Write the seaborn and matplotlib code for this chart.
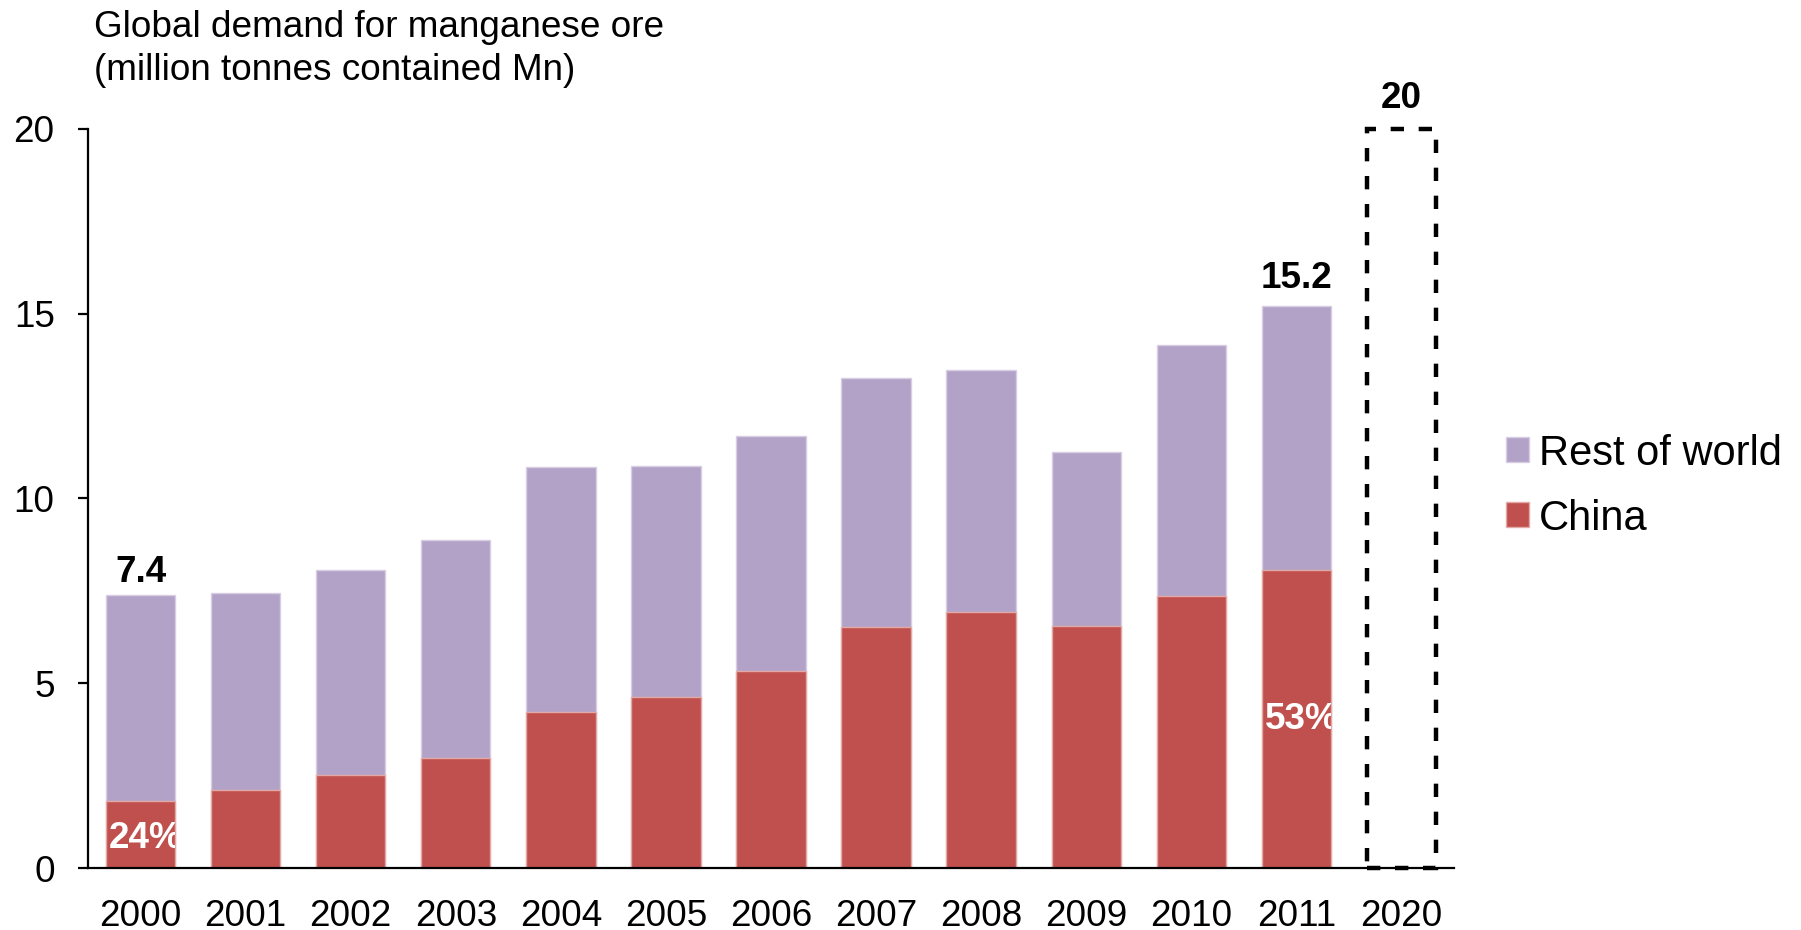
import matplotlib
matplotlib.use("Agg")
import matplotlib.pyplot as plt
import pandas as pd
import seaborn as sns

# Global manganese ore demand, million tonnes contained Mn
years = ["2000", "2001", "2002", "2003", "2004", "2005",
         "2006", "2007", "2008", "2009", "2010", "2011"]
china = [1.80, 2.11, 2.52, 2.98, 4.22, 4.63, 5.34, 6.52, 6.93, 6.55, 7.36, 8.06]
rest_of_world = [5.60, 5.34, 5.55, 5.90, 6.62, 6.24, 6.34, 6.74, 6.55, 4.72, 6.80, 7.14]
forecast_year = ["2020"]
forecast_total = [20]
y_ticks = [0, 5, 10, 15, 20]
series_names = ["Rest of world", "China"]
title_lines = ["Global demand for manganese ore", "(million tonnes contained Mn)"]

PURPLE = "#B3A2C7"
RED = "#C0504D"
FS = 26.6

sns.set_theme(style="white")
plt.rcParams["font.family"] = ["Liberation Sans", "DejaVu Sans"]

df = pd.DataFrame({"year": years, "china": china, "rest": rest_of_world})
df["total"] = df["china"] + df["rest"]
fc = pd.DataFrame({"year": forecast_year, "total": forecast_total})
order = years + forecast_year

W, H = 1801, 930
fig = plt.figure(figsize=(W / 100, H / 100), dpi=100)
ax = fig.add_axes([88 / W, 1 - 868 / H, (1454 - 88) / W, (868 - 129) / H])

BAR_W = 0.66
sns.barplot(data=df, x="year", y="total", order=order, color=PURPLE,
            saturation=1, width=BAR_W, edgecolor="#D8CEE4", linewidth=1,
            errorbar=None, label=series_names[0], ax=ax)
sns.barplot(data=df, x="year", y="china", order=order, color=RED,
            saturation=1, width=BAR_W, edgecolor="#E2A9A7", linewidth=1,
            errorbar=None, label=series_names[1], ax=ax)
sns.barplot(data=fc, x="year", y="total", order=order, fill=False,
            color="black", width=BAR_W, linewidth=3.2,
            linestyle=(0, (3.0, 3.3)), errorbar=None, ax=ax)

total_bars = ax.containers[0]
china_bars = ax.containers[1]
forecast_bars = ax.containers[2]
for p in forecast_bars:
    p.set_clip_on(False)

ax.set_xlim(-0.5, len(order) - 0.5)
ax.set_ylim(0, 20)
ax.set_yticks(y_ticks)
ax.set_xlabel("")
ax.set_ylabel("")

sns.despine(ax=ax)
for side in ("left", "bottom"):
    ax.spines[side].set_color("black")
    ax.spines[side].set_linewidth(1.6)
ax.tick_params(axis="y", left=True, length=7, width=1.6, color="black",
               pad=17, labelsize=FS, labelcolor="black")
ax.tick_params(axis="x", bottom=False, length=0, pad=22, labelsize=FS,
               labelcolor="black")

# Totals above first and last actual bars, plus the 2020 outlook
for idx, off in ((0, 9), (len(years) - 1, 13)):
    bar = total_bars[idx]
    ax.annotate(f"{df['total'][idx]:.1f}",
                (bar.get_x() + bar.get_width() / 2, bar.get_height()),
                xytext=(0, off), textcoords="offset points", ha="center",
                va="baseline", fontsize=FS, fontweight="bold", color="black")
fbar = forecast_bars[0]
ax.annotate(f"{forecast_total[0]:g}",
            (fbar.get_x() + fbar.get_width() / 2, fbar.get_height()),
            xytext=(0, 15), textcoords="offset points", ha="center",
            va="baseline", fontsize=FS, fontweight="bold", color="black",
            annotation_clip=False)

# China share, clipped to its bar
for idx, y in ((0, 0.53), (len(years) - 1, 3.75)):
    bar = china_bars[idx]
    share = china[idx] / df["total"][idx] * 100
    t = ax.text(bar.get_x() + 0.03, y, f"{share:.0f}%", color="white",
                fontsize=FS, fontweight="bold", ha="left", va="baseline",
                clip_on=True)
    t.set_clip_path(bar)

handles, labels = ax.get_legend_handles_labels()
lookup = dict(zip(labels, handles))
ax.legend([lookup[n] for n in series_names], series_names,
          loc="center left", bbox_to_anchor=(1506 / W, 1 - 486 / H),
          bbox_transform=fig.transFigure, frameon=False, fontsize=30,
          labelcolor="black", borderpad=0, borderaxespad=0,
          handlelength=0.55, handleheight=0.55, handletextpad=0.25,
          labelspacing=0.6)

fig.text(94 / W, 1 - 37 / H, title_lines[0], fontsize=FS, ha="left",
         va="baseline", color="black")
fig.text(94 / W, 1 - 80 / H, title_lines[1], fontsize=FS, ha="left",
         va="baseline", color="black")

fig.savefig("out.png", dpi=100, facecolor="white")
